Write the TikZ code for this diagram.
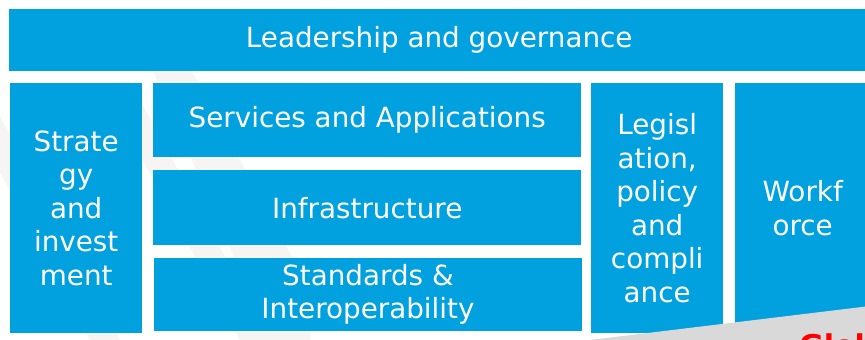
\documentclass[tikz,border=0pt]{standalone}
\usepackage{fontspec}
\setmainfont{DejaVu Sans}
\definecolor{tileBlue}{RGB}{0,161,222}
\definecolor{stripeGray}{RGB}{246,245,243}
\definecolor{bandGray}{RGB}{217,217,217}
\tikzset{
  tile/.style={shape=rectangle,fill=tileBlue,text=white,anchor=north west,inner sep=0pt,
    align=center,font=\fontsize{27.8}{33.5}\selectfont},
}
\begin{document}
\begin{tikzpicture}[x=1pt,y=-1pt]
  \useasboundingbox (0,0) rectangle (865,340);
  \clip (0,0) rectangle (865,340);
  \fill[white] (0,0) rectangle (865,340);

  % faint stripes behind the tiles
  \fill[stripeGray] (-60,60) -- (-30,60) -- (120,340) -- (90,340) -- cycle;
  \fill[stripeGray] (110,100) -- (140,100) -- (270,340) -- (240,340) -- cycle;
  \fill[stripeGray] (140,40) -- (175,40) -- (310,290) -- (310,340) -- (270,340) -- cycle;

  \node[tile,minimum width=860pt,minimum height=61.7pt] (leadershipAndGovernance) at (9,9) {Leadership and governance};
  \node[tile,minimum width=132pt,minimum height=250pt] (strategyAndInvestment) at (10,83) {Strate\\gy\\and\\invest\\ment};
  \node[tile,minimum width=428pt,minimum height=74pt] (servicesAndApplications) at (153,83) {Services and Applications};
  \node[tile,minimum width=428pt,minimum height=75pt] (infrastructure) at (153,170) {Infrastructure};
  \node[tile,minimum width=428.5pt,minimum height=73pt] (standardsAndInteroperability) at (153.5,257.5) {Standards \&\\Interoperability};
  \node[tile,minimum width=132pt,minimum height=250pt] (legislationPolicyAndCompliance) at (591,83) {Legisl\\ation,\\policy\\and\\compli\\ance};
  \node[tile,minimum width=135pt,minimum height=250pt] (workforce) at (735,83) {Workf\\orce};

  % grey band in the corner
  \fill[bandGray] (590,340) -- (870,306) -- (870,345) -- (590,345) -- cycle;
  \node[anchor=north west,inner sep=0pt,text=red,font=\fontsize{30}{30}\selectfont\bfseries] (cornerText) at (799,334) {Glob};
\end{tikzpicture}
\end{document}
